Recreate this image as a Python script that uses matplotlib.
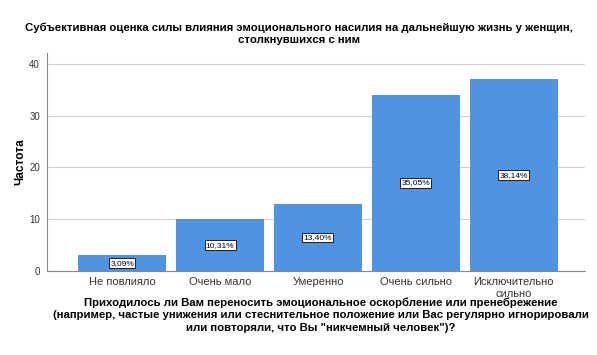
import matplotlib.pyplot as plt

categories = ["Не повлияло", "Очень мало", "Умеренно", "Очень сильно", "Исключительно\nсильно"]
counts = [3, 10, 13, 34, 37]
percent_labels = ["3,09%", "10,31%", "13,40%", "35,05%", "38,14%"]
yticks = [0, 10, 20, 30, 40]

title = ("Субъективная оценка силы влияния эмоционального насилия на дальнейшую жизнь у женщин,\n"
         "столкнувшихся с ним")
xlabel = ("Приходилось ли Вам переносить эмоциональное оскорбление или пренебрежение\n"
          "(например, частые унижения или стеснительное положение или Вас регулярно игнорировали\n"
          "или повторяли, что Вы \"никчемный человек\")?")

plt.rcParams['font.family'] = ['Liberation Sans', 'DejaVu Sans']

fig = plt.figure(figsize=(5.97, 3.55), dpi=100)
ax = fig.add_axes([47/597, 1 - 271/355, 538/597, 218/355])

x = list(range(len(categories)))
ax.bar(x, counts, width=0.9, color="#5193e0", zorder=2)

# percentage labels in the middle of each bar
for xi, c, lab in zip(x, counts, percent_labels):
    ax.text(xi, c / 2, lab, ha="center", va="center", fontsize=6,
            bbox=dict(boxstyle="square,pad=0.15", fc="white", ec="black", lw=0.6), zorder=3)

ax.set_xlim(-0.77, 4.73)
ax.set_ylim(0, 42.1)
ax.set_yticks(yticks)
ax.set_xticks(x)
ax.set_xticklabels(categories, fontsize=8, color="#333333", linespacing=1.35)
ax.tick_params(axis="y", labelsize=7, length=0, pad=5, colors="#333333")
ax.tick_params(axis="x", length=0, pad=4)
ax.yaxis.grid(True, color="#d0d0d0", lw=0.8, zorder=0)
ax.set_axisbelow(True)
for s in ["top", "right"]:
    ax.spines[s].set_visible(False)
ax.spines["left"].set_color("#888888")
ax.spines["bottom"].set_color("#888888")

ax.set_ylabel("Частота", fontsize=8.5, fontweight="bold")
ax.yaxis.set_label_coords((26 - 47) / 538, 0.5)
fig.text(0.5, 1 - 34/355, title, ha="center", va="center", fontsize=8.2, fontweight="bold", linespacing=1.3)
fig.text(321/597, 1 - 315/355, xlabel, ha="center", va="center", fontsize=8.2, fontweight="bold", linespacing=1.3)

fig.savefig("out.png", dpi=100)
